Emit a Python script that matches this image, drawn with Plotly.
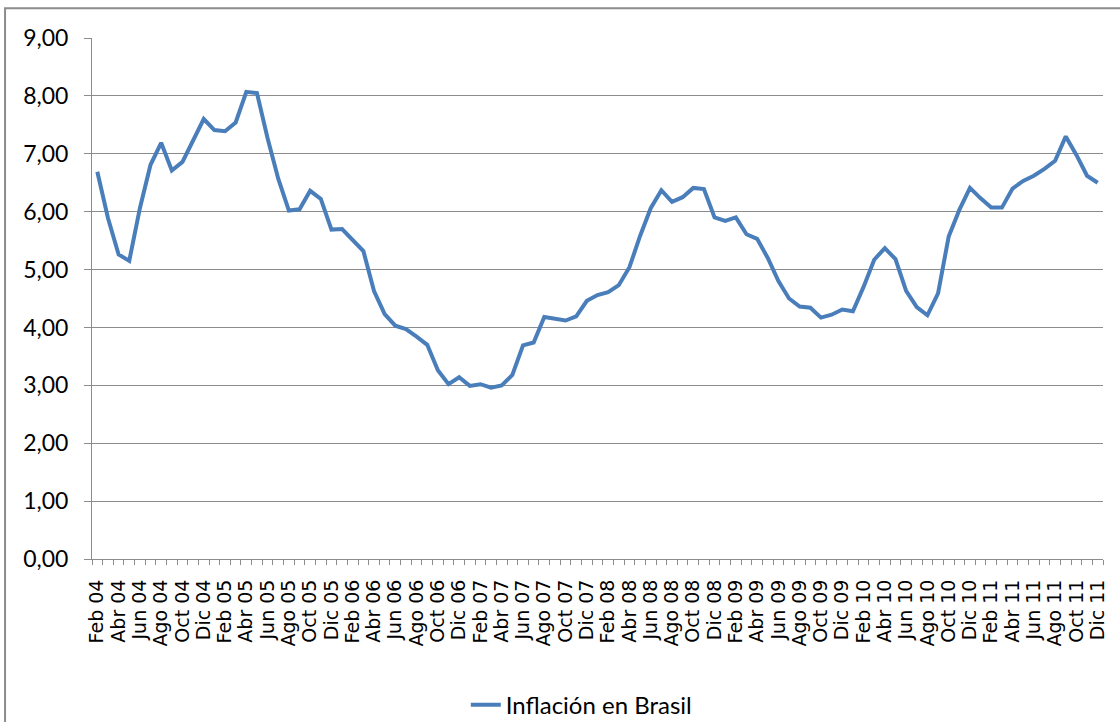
import plotly.graph_objects as go

month_names = ["Ene", "Feb", "Mar", "Abr", "May", "Jun", "Jul", "Ago", "Sep", "Oct", "Nov", "Dic"]
years = ["04", "05", "06", "07", "08", "09", "10", "11"]
categories = [f"{m} {y}" for y in years for m in month_names][1:]  # Feb 04 .. Dic 11

inflacion = [
    6.69, 5.89, 5.26, 5.15, 6.06, 6.81, 7.19, 6.71, 6.86, 7.24, 7.60,          # 2004 Feb-Dic
    7.41, 7.39, 7.54, 8.07, 8.05, 7.27, 6.57, 6.02, 6.04, 6.36, 6.22, 5.69,    # 2005
    5.70, 5.51, 5.32, 4.63, 4.23, 4.03, 3.97, 3.84, 3.70, 3.26, 3.02, 3.14,    # 2006
    2.99, 3.02, 2.96, 3.00, 3.18, 3.69, 3.74, 4.18, 4.15, 4.12, 4.19, 4.46,    # 2007
    4.56, 4.61, 4.73, 5.04, 5.58, 6.06, 6.37, 6.17, 6.25, 6.41, 6.39, 5.90,    # 2008
    5.84, 5.90, 5.61, 5.53, 5.20, 4.80, 4.50, 4.36, 4.34, 4.17, 4.22, 4.31,    # 2009
    4.28, 4.70, 5.17, 5.37, 5.18, 4.63, 4.35, 4.21, 4.59, 5.57, 6.03, 6.41,    # 2010
    6.23, 6.07, 6.07, 6.40, 6.53, 6.62, 6.74, 6.88, 7.30, 6.98, 6.62, 6.50,    # 2011
]
series_name = "Inflación en Brasil"

idx = list(range(len(categories)))
tick_idx = idx[::2]
tick_text = categories[::2]
boundaries = [i - 0.5 for i in idx] + [idx[-1] + 0.5]

GRID = "#8c8c8c"
FONT = "Lato"

fig = go.Figure()
fig.add_trace(go.Scatter(
    x=idx, y=inflacion, mode="lines", name=series_name,
    line=dict(color="#4a7ebb", width=4),
))

fig.update_layout(
    width=1120, height=722,
    margin=dict(l=92, r=17, t=38, b=163, autoexpand=False),
    paper_bgcolor="white", plot_bgcolor="white",
    separators=",.",
    showlegend=True,
    legend=dict(orientation="h", xref="paper", x=0.484, xanchor="center",
                yref="container", y=0.0235, yanchor="middle",
                font=dict(family=FONT, size=24, color="#000000"), bgcolor="rgba(0,0,0,0)"),
    font=dict(family=FONT, color="#000000"),
)

fig.update_xaxes(
    range=[-0.5, len(categories) - 0.5], automargin=False,
    tickmode="array", tickvals=tick_idx, ticktext=tick_text,
    tickangle=-90, tickfont=dict(family="DejaVu Sans", size=19, color="#000000"),
    ticks="", showgrid=False, zeroline=False,
    showline=True, linecolor=GRID, linewidth=1,
    ticklabelstandoff=12,
    minor=dict(tickmode="array", tickvals=boundaries, ticks="outside", ticklen=5,
               tickcolor=GRID, tickwidth=1, showgrid=False),
)

fig.update_yaxes(
    range=[0, 9], tickmode="linear", tick0=0, dtick=1, tickformat=".2f", automargin=False,
    tickfont=dict(family=FONT, size=23, color="#000000"),
    showgrid=True, gridcolor=GRID, gridwidth=1,
    zeroline=False, showline=True, linecolor=GRID, linewidth=1,
    ticks="outside", ticklen=7, tickcolor=GRID, ticklabelstandoff=11,
)

# chart-area border (extends past the picture's right and bottom edges)
fig.add_shape(type="rect", xref="paper", yref="paper",
              x0=-0.086, x1=1.06, y0=-0.4, y1=1.057,
              line=dict(color="#8c8c8c", width=2), fillcolor="rgba(0,0,0,0)", layer="below")

fig.write_html("out.html", config={"displayModeBar": False},
               post_script="document.body.style.margin='0px';")
